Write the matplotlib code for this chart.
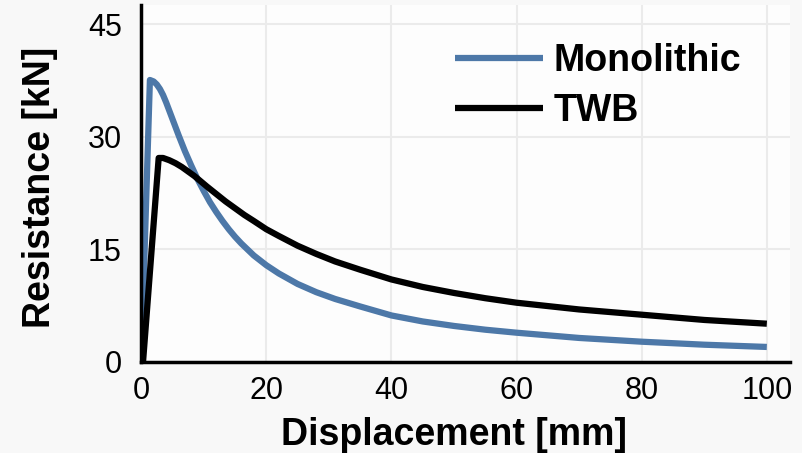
import matplotlib.pyplot as plt
import numpy as np

plt.rcParams['font.family'] = ['Liberation Sans', 'DejaVu Sans']

# Monolithic curve (displacement mm, resistance kN)
mono_x = [0, 1.4, 2, 2.5, 3, 3.5, 4, 4.5, 5, 6, 7, 8, 9, 10, 11, 12, 13, 14, 15, 16,
          18, 20, 22, 25, 28, 31, 35, 40, 45, 50, 55, 60, 70, 80, 90, 100]
mono_y = [0, 37.6, 37.4, 37.0, 36.4, 35.6, 34.6, 33.5, 32.4, 30.2, 28.1, 26.2, 24.4,
          22.8, 21.3, 20.0, 18.8, 17.7, 16.7, 15.8, 14.2, 12.9, 11.8, 10.4, 9.3, 8.4,
          7.4, 6.2, 5.4, 4.8, 4.3, 3.9, 3.2, 2.7, 2.3, 2.0]

# TWB curve
twb_x = [0.3, 2.8, 3.5, 4.5, 5.5, 6.5, 7.5, 8.5, 9.5, 10.5, 12, 13.5, 15, 16.5, 18,
         20, 22, 25, 28, 31, 35, 40, 45, 50, 55, 60, 70, 80, 90, 100]
twb_y = [0, 27.2, 27.2, 26.9, 26.5, 26.0, 25.4, 24.8, 24.1, 23.4, 22.4, 21.4, 20.5,
         19.6, 18.8, 17.7, 16.8, 15.5, 14.4, 13.4, 12.3, 11.0, 10.0, 9.2, 8.5, 7.9,
         7.0, 6.3, 5.6, 5.1]

x_ticks = [0, 20, 40, 60, 80, 100]
y_ticks = [0, 15, 30, 45]

fig = plt.figure(figsize=(8.02, 4.53), dpi=100, facecolor='#f8f8f8')
ax = fig.add_axes([0.176, 0.201, 0.809, 0.788])
ax.set_facecolor('#fdfdfd')

ax.plot(mono_x, mono_y, color='#4d78a8', lw=4.5, label='Monolithic',
        solid_capstyle='butt', solid_joinstyle='round')
ax.plot(twb_x, twb_y, color='black', lw=4.5, label='TWB',
        solid_capstyle='butt', solid_joinstyle='round')

ax.set_xlim(0, 103.7)
ax.set_ylim(0, 47.6)
ax.set_xticks(x_ticks)
ax.set_yticks(y_ticks)
ax.tick_params(length=0, labelsize=22, pad=10)
ax.tick_params(axis='y', pad=14)
ax.grid(True, color='#ebebeb', lw=1.5)
ax.set_axisbelow(True)

for s in ['top', 'right']:
    ax.spines[s].set_visible(False)
for s in ['left', 'bottom']:
    ax.spines[s].set_linewidth(2.5)
    ax.spines[s].set_color('black')

ax.set_xlabel('Displacement [mm]', fontsize=27, fontweight='bold')
ax.set_ylabel('Resistance [kN]', fontsize=27, fontweight='bold')
ax.xaxis.set_label_coords(0.482, -0.155)
ax.yaxis.set_label_coords(-0.128, 0.49)

leg = ax.legend(loc='upper left', bbox_to_anchor=(0.484, 0.893), frameon=False,
                prop={'size': 27, 'weight': 'bold'}, handlelength=2.35,
                handletextpad=0.28, labelspacing=0.38, borderpad=0,
                borderaxespad=0)

fig.savefig('out.png', dpi=100, facecolor=fig.get_facecolor())
